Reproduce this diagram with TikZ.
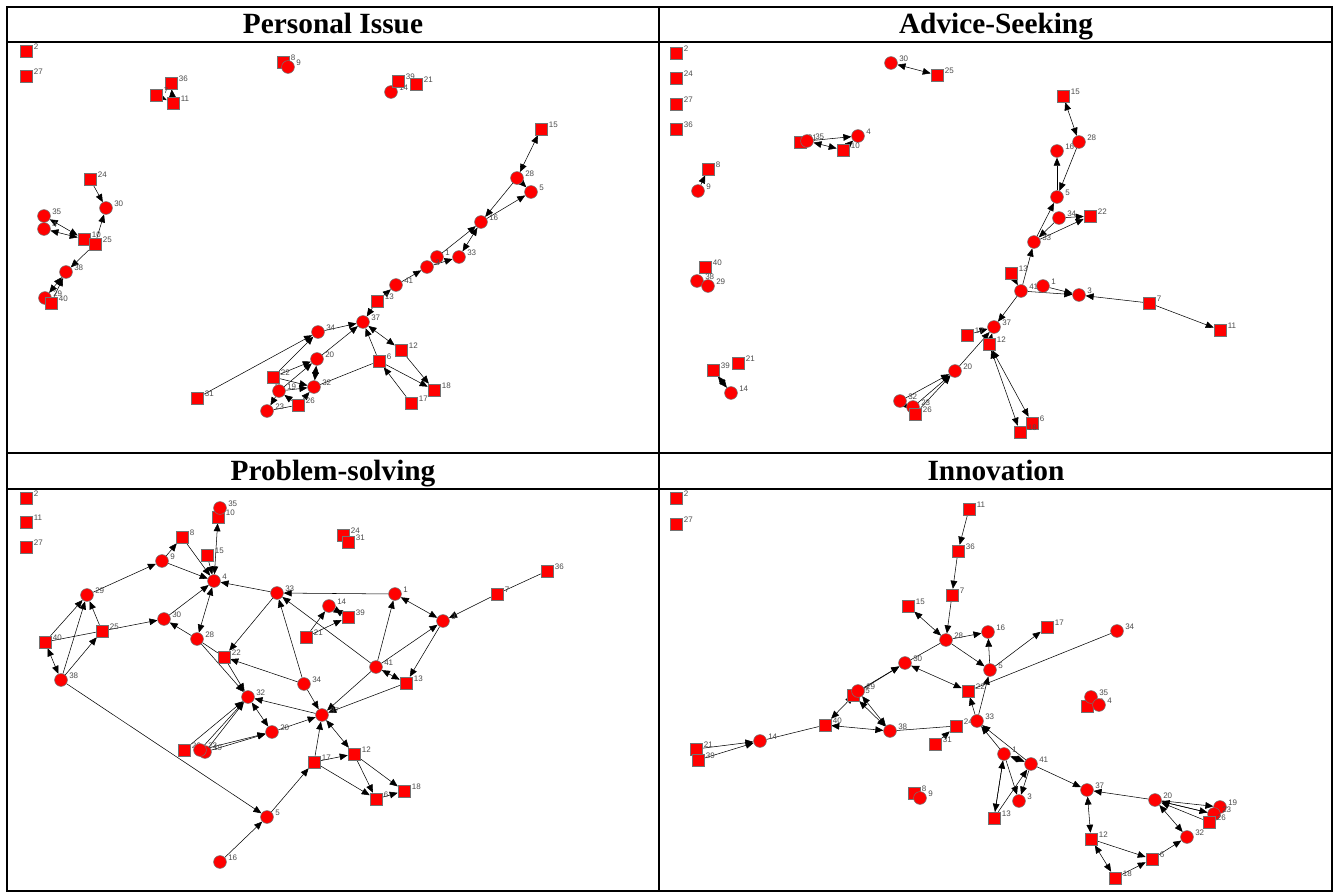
\documentclass[tikz,border=0pt]{standalone}
\usepackage{fontspec}
\setmainfont{Liberation Serif}
\newfontfamily\labfont{Liberation Sans}
\usetikzlibrary{arrows.meta}
\pgfdeclarelayer{back}
\pgfdeclarelayer{bg}
\pgfsetlayers{back,bg,main}
\tikzset{
  sqn/.style={rectangle,minimum size=9pt,inner sep=0pt,fill=red,draw=black!55,line width=0.4pt},
  cin/.style={circle,minimum size=9.6pt,inner sep=0pt,fill=red,draw=black!55,line width=0.4pt},
  lab/.style={font=\labfont\fontsize{6}{6}\selectfont,text=black!70,inner sep=0.4pt,yshift=3pt,xshift=0.6pt},
  edge/.style={line width=0.4pt,draw=black},
  ar/.style={edge,-{Triangle[length=6pt,width=5pt]}},
  br/.style={edge,{Triangle[length=6pt,width=5pt]}-{Triangle[length=6pt,width=5pt]}},
  head/.style={font=\bfseries\fontsize{22}{24}\selectfont,inner sep=0pt,anchor=base},
  frame/.style={line width=1.6pt,draw=black}
}
\newcommand\Sq[4]{\node[sqn,label={[lab]east:#4}] (#1) at (#2,#3) {};}
\newcommand\Ci[4]{\node[cin,label={[lab]east:#4}] (#1) at (#2,#3) {};}
\newcommand\dE[2]{\draw[ar] (#1) -- (#2);}
\newcommand\bE[2]{\draw[br] (#1) -- (#2);}
\newcommand\pE[2]{\draw[edge] (#1) -- (#2);}
\begin{document}
\begin{tikzpicture}[x=0.75pt,y=-0.75pt]
\useasboundingbox (0,0) rectangle (1335,894);
\begin{pgfonlayer}{back}
\fill[white] (0,0) rectangle (1335,894);
\end{pgfonlayer}
% table frame
\draw[frame] (7,7) rectangle (1332,891);
\draw[frame] (659,7) -- (659,891);
\draw[frame] (7,42) -- (1332,42);
\draw[frame] (7,453) -- (1332,453);
\draw[frame] (7,489) -- (1332,489);
\node[head] (h1) at (333,33) {Personal Issue};
\node[head] (h2) at (996,33) {Advice-Seeking};
\node[head] (h3) at (333,480) {Problem-solving};
\node[head] (h4) at (996,480) {Innovation};
% ================= Panel 1: Personal Issue
\Sq{a2}{26}{51}{2}
\Sq{a27}{26}{76}{27}
\Sq{a36}{171}{83}{36}
\Sq{a7}{156}{95}{7}
\Sq{a11}{173}{103}{11}
\Sq{a8}{283}{62}{8}
\Ci{a9}{288}{67}{9}
\Ci{a14}{391}{92}{14}
\Sq{a39}{398}{81}{39}
\Sq{a21}{416}{84}{21}
\Sq{a15}{541}{129}{15}
\Ci{a28}{517}{178}{28}
\Ci{a5}{531}{192}{5}
\Ci{a16}{481}{222}{16}
\Ci{a1}{437}{257}{1}
\Ci{a3}{427}{267}{3}
\Ci{a33}{459}{257}{33}
\Ci{a41}{396}{285}{41}
\Sq{a13}{377}{301}{13}
\Ci{a37}{363}{322}{37}
\Ci{a34}{318}{332}{34}
\Sq{a12}{401}{350}{12}
\Sq{a6}{379}{361}{6}
\Ci{a20}{317}{359}{20}
\Sq{a22}{273}{377}{22}
\Ci{a19}{279}{391}{19}
\Ci{a32}{314}{387}{32}
\Sq{a26}{298}{405}{26}
\Ci{a23}{267}{411}{23}
\Sq{a18}{434}{390}{18}
\Sq{a17}{411}{403}{17}
\Sq{a31}{197}{398}{31}
\Sq{a24}{90}{179}{24}
\Ci{a30}{106}{208}{30}
\Ci{a35}{44}{216}{35}
\Ci{a4}{44}{229}{4}
\Sq{a10}{84}{239}{10}
\Sq{a25}{95}{244}{25}
\Ci{a38}{66}{272}{38}
\Ci{a29}{45}{298}{29}
\Sq{a40}{51}{303}{40}
% ================= Panel 2: Advice-Seeking
\Sq{b2}{676}{53}{2}
\Sq{b24}{676}{78}{24}
\Sq{b27}{676}{104}{27}
\Sq{b36}{676}{129}{36}
\Ci{b30}{891}{63}{30}
\Sq{b25}{937}{75}{25}
\Sq{b31}{800}{142}{31}
\Ci{b35}{807}{141}{35}
\Ci{b4}{858}{136}{4}
\Sq{b10}{843}{150}{10}
\Sq{b8}{708}{169}{8}
\Ci{b9}{698}{191}{9}
\Sq{b15}{1063}{96}{15}
\Ci{b28}{1079}{142}{28}
\Ci{b16}{1057}{151}{16}
\Ci{b5}{1057}{197}{5}
\Ci{b34}{1059}{218}{34}
\Sq{b22}{1090}{216}{22}
\Ci{b33}{1034}{242}{33}
\Sq{b13}{1011}{273}{13}
\Ci{b1}{1043}{286}{1}
\Ci{b41}{1021}{291}{41}
\Ci{b3}{1079}{295}{3}
\Sq{b7}{1149}{303}{7}
\Sq{b11}{1220}{330}{11}
\Sq{b17}{967}{335}{17}
\Ci{b37}{994}{327}{37}
\Sq{b12}{989}{344}{12}
\Ci{b20}{955}{371}{20}
\Ci{b32}{900}{401}{32}
\Ci{b23}{913}{407}{23}
\Sq{b26}{915}{414}{26}
\Sq{b6}{1032}{423}{6}
\Sq{b18}{1020}{432}{18}
\Sq{b40}{705}{267}{40}
\Ci{b38}{697}{281}{38}
\Ci{b29}{708}{286}{29}
\Sq{b39}{713}{370}{39}
\Sq{b21}{738}{363}{21}
\Ci{b14}{731}{393}{14}
% ================= Panel 3: Problem-solving
\Sq{c2}{26}{498}{2}
\Sq{c11}{26}{522}{11}
\Sq{c27}{26}{547}{27}
\Sq{c10}{218}{517}{10}
\Ci{c35}{220}{508}{35}
\Sq{c8}{182}{537}{8}
\Sq{c15}{207}{555}{15}
\Ci{c9}{162}{561}{9}
\Ci{c4}{214}{581}{4}
\Ci{c29}{87}{595}{29}
\Ci{c33}{277}{593}{33}
\Ci{c30}{164}{619}{30}
\Sq{c25}{102}{631}{25}
\Sq{c40}{45}{642}{40}
\Ci{c28}{197}{639}{28}
\Sq{c22}{224}{657}{22}
\Ci{c38}{61}{680}{38}
\Ci{c34}{304}{684}{34}
\Ci{c32}{248}{697}{32}
\Ci{c37}{322}{715}{37}
\Ci{c20}{272}{732}{20}
\Sq{c26}{184}{750}{26}
\Ci{c19}{205}{752}{19}
\Ci{c23}{200}{750}{23}
\Sq{c17}{314}{762}{17}
\Sq{c21}{306}{637}{21}
\Ci{c1}{395}{594}{1}
\Ci{c3}{443}{621}{3}
\Ci{c14}{329}{606}{14}
\Sq{c39}{348}{617}{39}
\Ci{c41}{376}{667}{41}
\Sq{c13}{406}{683}{13}
\Sq{c12}{354}{754}{12}
\Sq{c18}{404}{791}{18}
\Sq{c6}{376}{799}{6}
\Ci{c5}{267}{817}{5}
\Ci{c16}{220}{862}{16}
\Sq{c7}{497}{594}{7}
\Sq{c36}{547}{571}{36}
\Sq{c24}{343}{535}{24}
\Sq{c31}{348}{542}{31}
% ================= Panel 4: Innovation
\Sq{d2}{676}{498}{2}
\Sq{d27}{676}{524}{27}
\Sq{d11}{969}{509}{11}
\Sq{d36}{958}{551}{36}
\Sq{d7}{952}{595}{7}
\Sq{d15}{908}{606}{15}
\Ci{d28}{946}{640}{28}
\Ci{d30}{905}{663}{30}
\Sq{d22}{968}{691}{22}
\Sq{d25}{853}{695}{25}
\Ci{d29}{858}{691}{29}
\Sq{d40}{825}{725}{40}
\Ci{d38}{890}{731}{38}
\Ci{d14}{760}{741}{14}
\Sq{d21}{696}{749}{21}
\Sq{d39}{698}{760}{39}
\Sq{d24}{956}{726}{24}
\Sq{d31}{935}{744}{31}
\Ci{d33}{977}{721}{33}
\Ci{d16}{988}{632}{16}
\Sq{d17}{1047}{627}{17}
\Ci{d34}{1117}{631}{34}
\Ci{d5}{990}{670}{5}
\Sq{d10}{1087}{706}{10}
\Ci{d35}{1091}{697}{35}
\Ci{d4}{1099}{705}{4}
\Ci{d1}{1004}{754}{1}
\Ci{d41}{1031}{764}{41}
\Ci{d3}{1019}{801}{3}
\Sq{d13}{994}{818}{13}
\Sq{d8}{914}{793}{8}
\Ci{d9}{920}{798}{9}
\Ci{d37}{1087}{790}{37}
\Ci{d20}{1155}{800}{20}
\Ci{d19}{1220}{807}{19}
\Ci{d23}{1214}{814}{23}
\Sq{d26}{1209}{822}{26}
\Ci{d32}{1187}{837}{32}
\Sq{d12}{1091}{839}{12}
\Sq{d6}{1152}{859}{6}
\Sq{d18}{1115}{878}{18}
% ================= edges
\begin{pgfonlayer}{bg}
% panel 1
\dE{a7}{a11} \dE{a11}{a36} \dE{a8}{a9} \dE{a14}{a39}
\bE{a15}{a28} \dE{a28}{a5} \dE{a28}{a16} \dE{a16}{a5} \bE{a16}{a33}
\dE{a1}{a16} \dE{a3}{a33} \dE{a41}{a3} \dE{a13}{a41} \dE{a13}{a37}
\dE{a34}{a37} \dE{a20}{a37} \dE{a6}{a37} \bE{a37}{a12} \dE{a12}{a18}
\dE{a6}{a18} \dE{a17}{a6} \pE{a32}{a6} \dE{a31}{a34} \dE{a22}{a34}
\dE{a22}{a20} \dE{a19}{a20} \bE{a20}{a32} \dE{a22}{a32} \dE{a19}{a32}
\dE{a19}{a23} \dE{a26}{a19} \pE{a23}{a26} \dE{a26}{a32} \dE{a22}{a19}
\dE{a24}{a30} \dE{a25}{a30} \bE{a35}{a10} \bE{a4}{a10} \dE{a25}{a38}
\bE{a38}{a29} \dE{a40}{a38}
% panel 2
\bE{b30}{b25} \dE{b35}{b4} \bE{b35}{b10} \dE{b10}{b4} \dE{b9}{b8}
\bE{b15}{b28} \dE{b28}{b5} \dE{b5}{b16} \dE{b33}{b5} \dE{b34}{b33}
\dE{b33}{b22} \dE{b34}{b22} \dE{b41}{b33} \dE{b13}{b41} \dE{b41}{b3}
\dE{b1}{b3} \dE{b7}{b3} \dE{b7}{b11} \dE{b41}{b37} \dE{b17}{b37}
\dE{b12}{b37} \dE{b20}{b37} \dE{b32}{b20} \dE{b26}{b20} \dE{b23}{b20}
\dE{b32}{b26} \bE{b12}{b18} \bE{b12}{b6} \bE{b39}{b14}
% panel 3
\bE{c10}{c4} \dE{c9}{c8} \dE{c8}{c4} \dE{c9}{c4} \dE{c15}{c4}
\dE{c29}{c9} \dE{c33}{c4} \bE{c28}{c4} \dE{c30}{c4} \dE{c28}{c30}
\dE{c25}{c30} \pE{c40}{c25} \dE{c40}{c29} \dE{c25}{c29} \dE{c38}{c29}
\dE{c38}{c25} \bE{c40}{c38} \dE{c38}{c5} \dE{c33}{c22} \pE{c28}{c22}
\dE{c28}{c32} \dE{c22}{c32} \dE{c34}{c22} \dE{c34}{c33} \dE{c34}{c37}
\dE{c41}{c33} \dE{c37}{c32} \bE{c32}{c20} \dE{c20}{c37} \dE{c26}{c32}
\dE{c23}{c32} \dE{c19}{c32} \dE{c19}{c20} \dE{c23}{c20} \dE{c1}{c33}
\bE{c1}{c3} \dE{c41}{c1} \dE{c41}{c3} \dE{c3}{c13} \bE{c41}{c13}
\dE{c13}{c37} \dE{c41}{c37} \dE{c21}{c14} \dE{c21}{c39} \bE{c14}{c39}
\dE{c7}{c3} \pE{c36}{c7} \dE{c17}{c37} \dE{c17}{c12} \bE{c37}{c12}
\dE{c12}{c6} \dE{c12}{c18} \dE{c17}{c6} \dE{c6}{c18} \dE{c5}{c17}
\dE{c16}{c5}
% panel 4
\dE{d11}{d36} \dE{d36}{d7} \dE{d7}{d28} \bE{d15}{d28} \dE{d28}{d16}
\dE{d28}{d5} \dE{d5}{d16} \dE{d5}{d17} \pE{d28}{d30} \bE{d30}{d22}
\dE{d29}{d30} \dE{d25}{d30} \bE{d29}{d38} \bE{d25}{d38} \bE{d40}{d29}
\bE{d40}{d38} \pE{d14}{d40} \dE{d21}{d14} \dE{d39}{d14} \pE{d38}{d24}
\dE{d31}{d24} \dE{d33}{d22} \dE{d33}{d5} \pE{d34}{d22} \dE{d1}{d33}
\dE{d41}{d33} \bE{d1}{d41} \dE{d1}{d13} \dE{d13}{d1} \dE{d1}{d3}
\dE{d13}{d41} \dE{d41}{d3} \dE{d41}{d37} \dE{d20}{d37} \bE{d37}{d12}
\dE{d12}{d6} \bE{d12}{d18} \dE{d18}{d6} \dE{d6}{d32} \bE{d32}{d20}
\dE{d20}{d19} \dE{d20}{d23} \dE{d26}{d20} \dE{d23}{d20}
\end{pgfonlayer}
\end{tikzpicture}
\end{document}
